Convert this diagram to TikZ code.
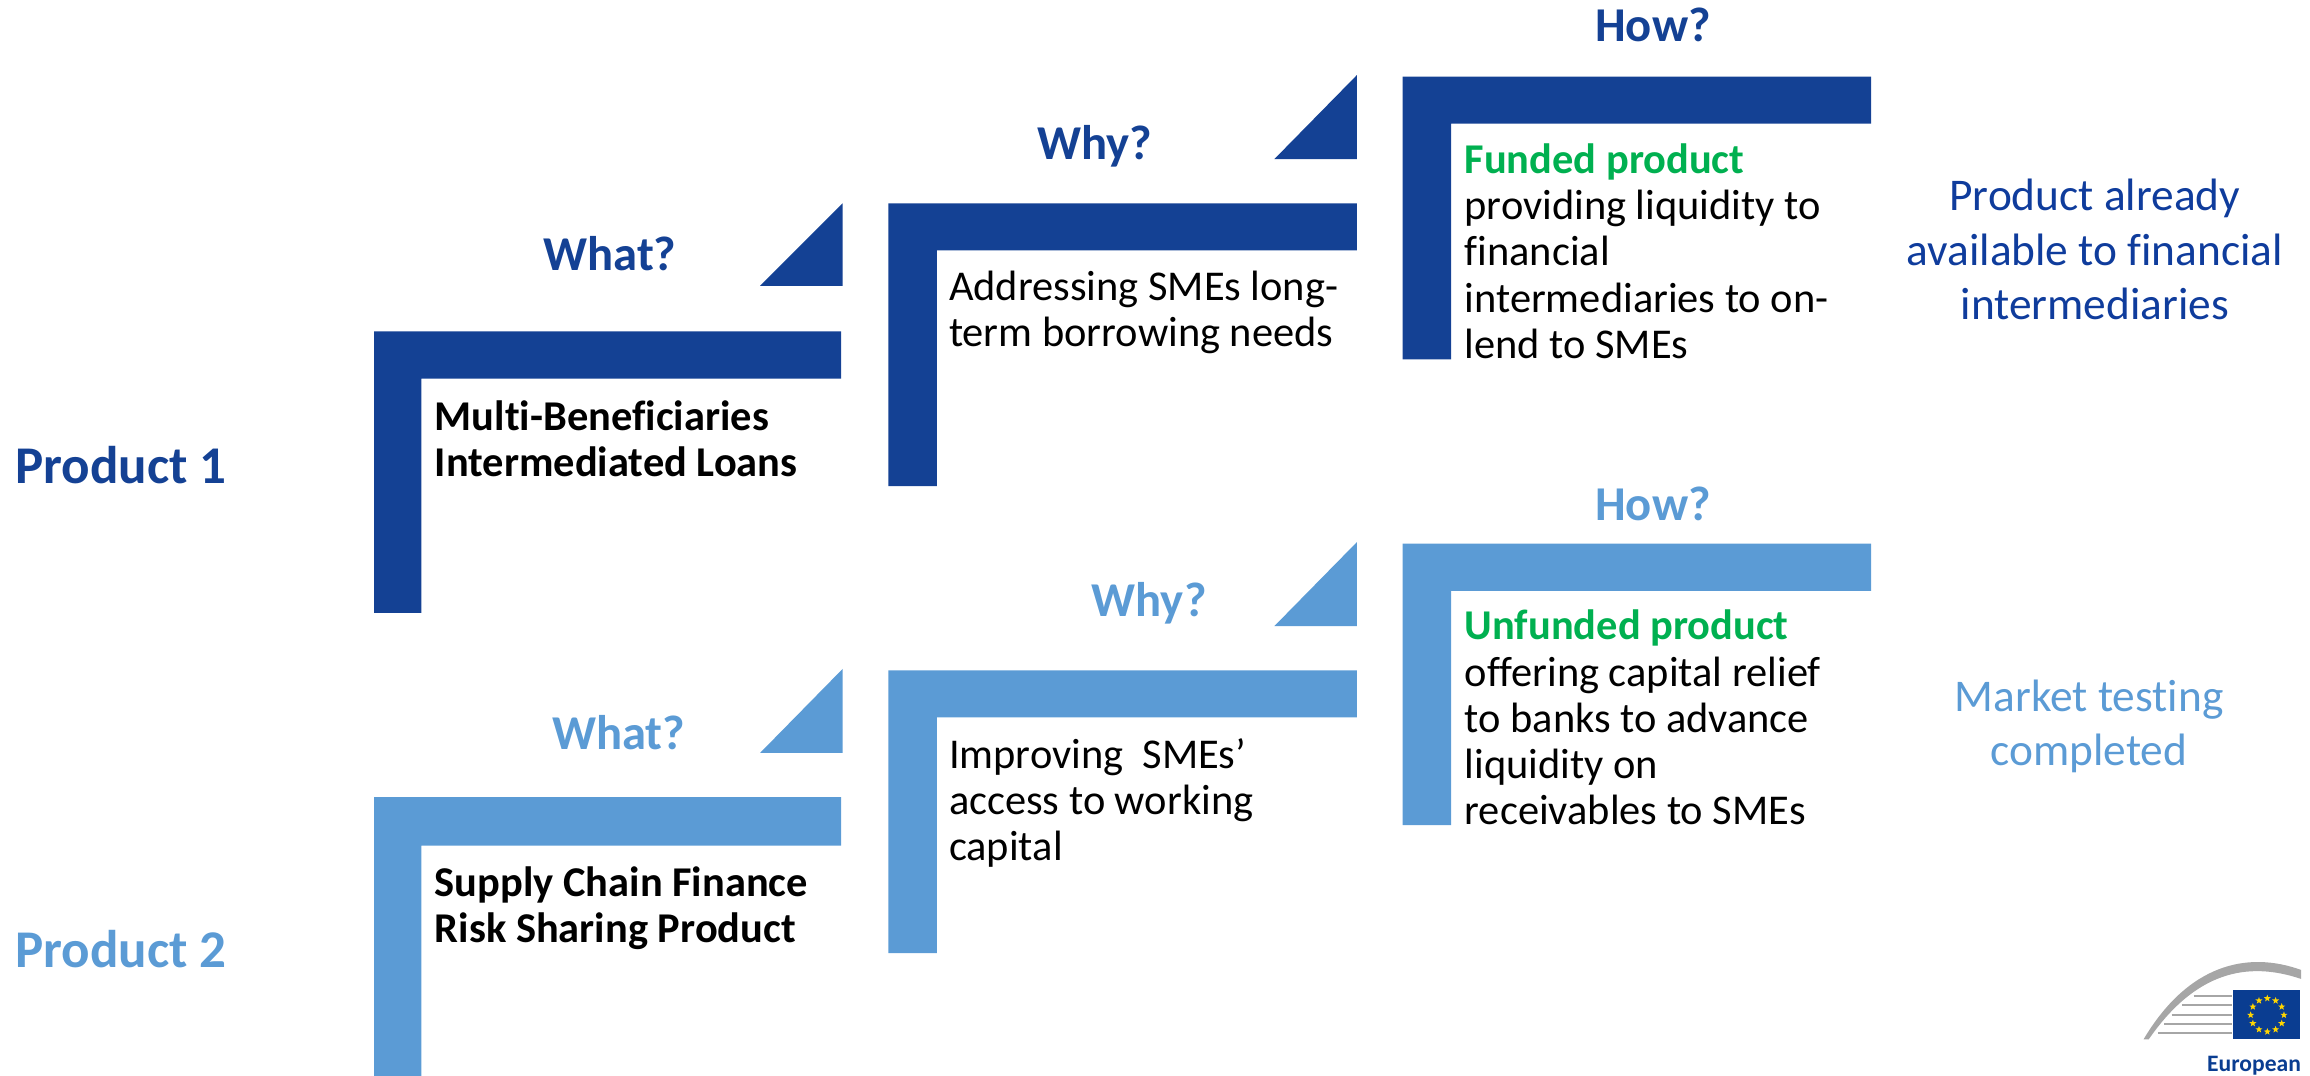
\documentclass[tikz,border=0pt]{standalone}
\usepackage{fontspec}
\setmainfont{Carlito}[Ligatures=NoCommon]
\usetikzlibrary{shapes.geometric,calc}
\definecolor{darkprod}{HTML}{144194}
\definecolor{lightprod}{HTML}{5B9BD5}
\definecolor{greenlabel}{HTML}{00B050}
\definecolor{statusblue}{HTML}{0F3C9C}
\definecolor{euroblue}{HTML}{0A3D91}
\definecolor{archgrey}{HTML}{A6A6A6}
\definecolor{stargold}{HTML}{FFD500}
\newcommand{\bodysize}{\fontsize{28.8}{31.3}\selectfont}
\tikzset{
  bodytext/.style={anchor=north west,align=left,inner sep=0pt,font=\bodysize},
  boldtext/.style={bodytext,font=\bodysize\bfseries},
  question/.style={inner sep=0pt,font=\fontsize{33}{36}\selectfont\bfseries},
  prodname/.style={inner sep=0pt,font=\fontsize{36}{37}\selectfont\bfseries},
  statustext/.style={inner sep=0pt,align=center,font=\fontsize{30.8}{37}\selectfont}
}
\begin{document}
\begin{tikzpicture}[x=1pt,y=-1pt]

      \useasboundingbox (0,0) rectangle (1568,730);
      \clip (0,0) rectangle (1568,730);

      \begin{scope}[every path/.style={fill=darkprod}]
        \path (254,225) -- (571,225) -- (571,257) -- (286,257) -- (286,416) -- (254,416) -- cycle;
        \path (603,138) -- (921,138) -- (921,170) -- (636,170) -- (636,330) -- (603,330) -- cycle;
        \path (952,52) -- (1270,52) -- (1270,84) -- (985,84) -- (985,244) -- (952,244) -- cycle;
        \path (516,194) -- (572,194) -- (572,138) -- cycle;
        \path (865,108) -- (921,108) -- (921,51) -- cycle;
      \end{scope}

      \begin{scope}[every path/.style={fill=lightprod}]
        \path (254,541) -- (571,541) -- (571,574) -- (286,574) -- (286,735) -- (254,735) -- cycle;
        \path (603,455) -- (921,455) -- (921,487) -- (636,487) -- (636,647) -- (603,647) -- cycle;
        \path (952,369) -- (1270,369) -- (1270,401) -- (985,401) -- (985,560) -- (952,560) -- cycle;
        \path (516,511) -- (572,511) -- (572,454) -- cycle;
        \path (865,425) -- (921,425) -- (921,368) -- cycle;
      \end{scope}

      \begin{scope}[every node/.style={question,text=darkprod}]
        \node (what1) at (414,172) {What?};
        \node (why1)  at (743,99.5)  {Why?};
        \node (how1)  at (1122,17) {How?};
      \end{scope}

      \begin{scope}[every node/.style={question,text=lightprod}]
        \node (what2) at (420,497) {What?};
        \node (why2)  at (780,409.5) {Why?};
        \node (how2)  at (1122,342) {How?};
      \end{scope}

      \node[prodname,text=darkprod]  (prod1) at (82,316) {Product 1};
      \node[prodname,text=lightprod] (prod2) at (82,644) {Product 2};

      \node[boldtext] (name1) at (295,271.5) {Multi-Beneficiaries\\Intermediated Loans};
      \node[boldtext] (name2) at (295,588) {Supply Chain Finance\\Risk Sharing Product};

      \node[bodytext] (why1text) at (644,184) {Addressing SMEs long-\\term borrowing needs};
      \node[bodytext] (why2text) at (644,501) {Improving\ \ SMEs’\\access to working\\capital};

      \node[bodytext] (how1text) at (994,97.5) {\textcolor{greenlabel}{\bfseries Funded product}\\providing liquidity to\\financial\\intermediaries to on-\\lend to SMEs};
      \node[bodytext] (how2text) at (994,414) {\textcolor{greenlabel}{\bfseries Unfunded product}\\offering capital relief\\to banks to advance\\liquidity on\\receivables to SMEs};

      \node[statustext,text=statusblue] (status1) at (1422,169.5) {Product already\\available to financial\\intermediaries};
      \node[statustext,text=lightprod]  (status2) at (1418,493) {Market testing\\completed};

      \fill[archgrey] (1455,705.5) .. controls (1485,655) and (1525,645) .. (1562,658.4) -- (1562,664.5) .. controls (1525,652) and (1490,660) .. (1458.5,705.5) -- cycle;
      \foreach \xa/\ya in {1489/676,1481/682,1474/689,1469/695,1465/701}
        \draw[archgrey,line width=1.5pt] (\xa,\ya) -- (1515,\ya);
      \fill[euroblue] (1516,672) rectangle (1561,705);
      \foreach \ang in {0,30,...,330}
        \node[star,star points=5,star point ratio=2.4,fill=stargold,inner sep=0pt,minimum size=5pt] at ($(1539,689)+(\ang:11.3)$) {};

      \node[anchor=base east,inner sep=0pt,text=euroblue,font=\fontsize{16}{18}\selectfont\bfseries] (eulabel) at (1562,727) {European};

    \end{tikzpicture}
\end{document}
